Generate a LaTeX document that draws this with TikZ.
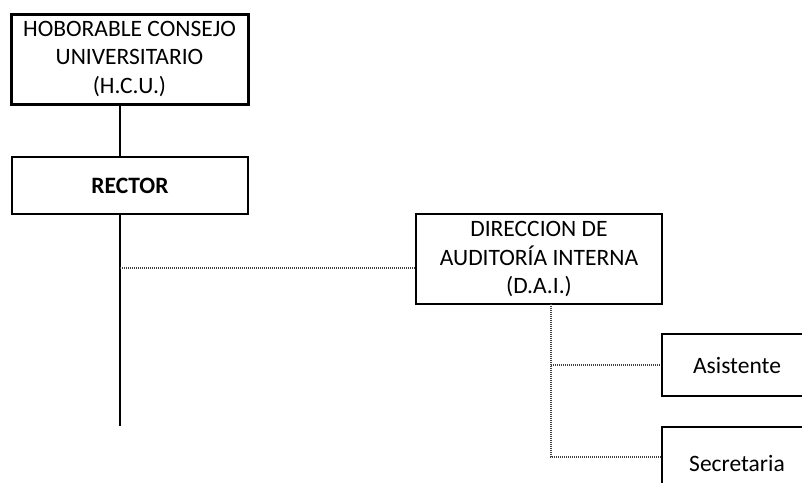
\documentclass[tikz,border=0pt]{standalone}
\usepackage{fontspec}
\setmainfont{Carlito}
\begin{document}
\begin{tikzpicture}[x=1pt,y=-1pt,
  box/.style={draw,line width=2pt,align=center,inner sep=0pt,
    font=\fontsize{23.5}{28.5}\selectfont},
  solidline/.style={line width=2pt},
  dotline/.style={line width=1.2pt,draw=black!75,dash pattern=on 1pt off 1pt}]
\useasboundingbox (0,0) rectangle (802,482);
\clip (0,0) rectangle (802,482);
\node[box,line width=3pt,minimum width=237pt,minimum height=90pt] (hcu) at (129.5,59)
  {HOBORABLE CONSEJO\\UNIVERSITARIO\\(H.C.U.)};
\node[box,minimum width=236pt,minimum height=57pt,font=\fontsize{23.5}{28.5}\selectfont\bfseries] (rector) at (130,185.5) {RECTOR};
\node[box,minimum width=246pt,minimum height=90pt] (dai) at (539,259)
  {DIRECCION DE\\AUDITORÍA INTERNA\\(D.A.I.)};
\node[box,minimum width=150pt,minimum height=62pt] (asis) at (737,365) {Asistente};
\node[box,minimum width=150pt,minimum height=72pt] (sec) at (737,463) {Secretaria};
\coordinate (h1) at (120,104);
\coordinate (r1) at (120,157);
\coordinate (r2) at (120,214);
\coordinate (rend) at (120,426);
\coordinate (rj) at (120,268);
\coordinate (d1) at (551,304);
\coordinate (dj1) at (551,365);
\coordinate (dj2) at (551,457);
\draw[solidline] (h1) -- (r1);
\draw[solidline] (r2) -- (rend);
\draw[dotline] (rj) -- (rj -| dai.west);
\draw[dotline] (d1) -- (dj2) -- (dj2 -| sec.west);
\draw[dotline] (dj1) -- (dj1 -| asis.west);
\end{tikzpicture}
\end{document}
